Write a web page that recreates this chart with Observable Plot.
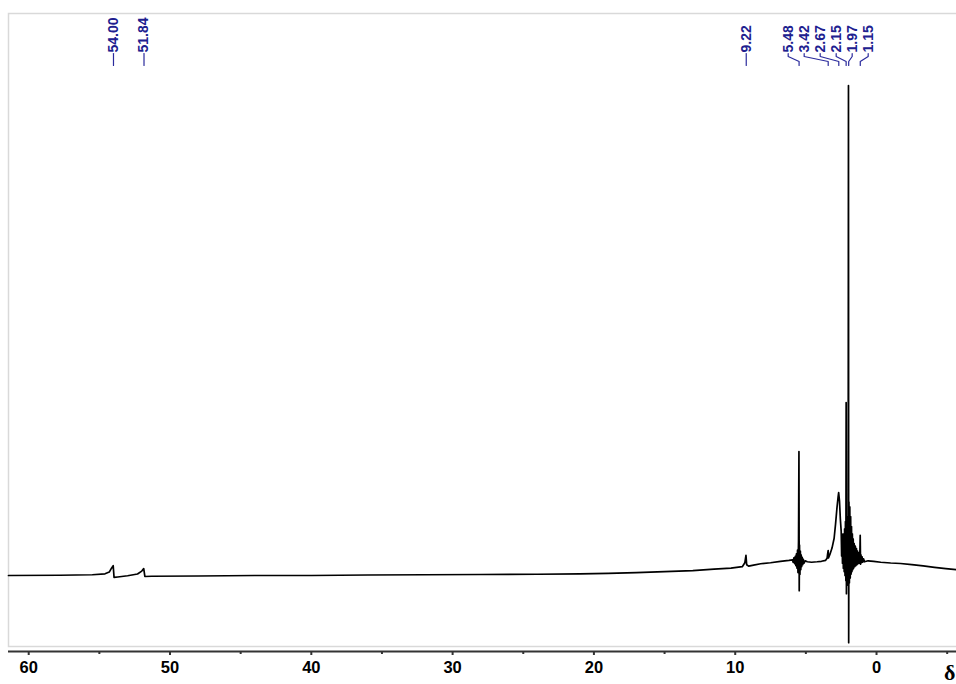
<!DOCTYPE html>
<html><head><meta charset="utf-8">
<script src="https://cdn.jsdelivr.net/npm/d3@7"></script>
<script src="https://cdn.jsdelivr.net/npm/@observablehq/plot@0.6"></script>
<style>html,body{margin:0;padding:0;background:#fff;} #chart svg{display:block;}</style>
</head><body><div id="chart"></div>
<script>
// Chemical shift (ppm) and relative intensity
const ppm = [61.43,57.8,55.5,54.6,54.3,54.14,54.02,53.96,53.7,53.0,52.3,52.0,51.86,51.78,51.3,48.0,44.0,40.0,36.0,32.0,28.0,24.0,21.0,19.0,17.0,15.0,13.0,11.5,10.3,9.5,9.32,9.24,9.19,9.05,8.7,8.2,7.5,6.8,6.2,
5.95,5.90,5.85,5.80,5.75,5.71,5.67,5.63,5.59,5.56,5.52,5.49,5.47,5.45,5.42,5.39,5.36,5.33,5.30,5.26,5.22,5.18,5.13,5.05,4.9,4.6,4.2,3.9,3.6,3.5,3.45,3.42,3.40,3.30,3.15,3.0,2.9,2.8,2.72,2.68,2.62,2.56,2.50,2.47,2.44,2.41,2.38,2.35,2.32,2.29,2.26,2.23,2.20,2.17,2.15,2.13,2.10,2.07,2.04,2.01,1.985,1.97,1.95,1.92,1.89,1.86,1.83,1.80,1.77,1.74,1.71,1.68,1.65,1.62,1.58,1.54,1.50,1.46,1.42,1.38,1.34,1.30,1.26,1.22,1.18,1.155,1.13,1.10,1.06,1.02,0.98,0.92,0.85,0.6,0.2,-0.3,-1.0,-1.7,-2.5,-3.3,-4.1,-4.9,-5.66];
const intensity = [0.0,0.05,0.15,0.35,0.7,1.5,2.0,-0.4,-0.3,-0.05,0.3,0.9,1.4,-0.2,-0.15,-0.1,0.0,0.0,0.1,0.15,0.2,0.25,0.35,0.45,0.6,0.8,1.0,1.3,1.5,1.8,2.6,4.1,2.2,1.9,2.1,2.4,2.6,2.9,3.1,
3.2,2.7,3.6,2.4,3.9,2.0,4.4,1.5,5.2,0.6,7.0,25.3,-3.1,6.2,0.2,5.0,1.2,4.2,1.8,3.7,2.2,3.3,2.5,3.0,2.8,2.7,2.8,2.9,3.1,3.5,4.6,5.1,3.6,4.3,5.6,7.6,10.5,13.8,16.0,16.9,15.2,11.5,9.0,4.0,8.5,2.5,8.0,1.5,8.5,0.8,9.5,0.0,11.0,-1.0,35.3,-3.7,10.5,-1.5,12.0,-2.0,100,-13.7,15.0,-1.5,14.0,-0.5,12.0,0.3,10.0,0.8,8.5,1.2,7.5,1.5,6.5,1.8,6.0,2.0,5.5,2.2,5.0,2.4,4.6,2.5,4.5,8.2,2.3,4.2,2.6,3.8,2.7,3.4,2.8,3.0,2.9,2.7,2.55,2.45,2.2,1.95,1.65,1.4,1.2];
const peakLabels = [54.00, 51.84, 9.22, 5.48, 3.42, 2.67, 2.15, 1.97, 1.15];
const majorTicks = [60, 50, 40, 30, 20, 10, 0];
const minorTicks = [55, 45, 35, 25, 15, 5, -5];
const xDomain = [61.43, -5.66];
const yDomain = [-15.51, 114.69];
const axisTitle = "δ";

const W = 956, H = 684, ML = 8, MR = 0, MT = 13, MB = 33;
const spectrum = ppm.map((p, i) => ({ppm: p, v: intensity[i]}));

const xs = Plot.scale({x: {domain: xDomain, range: [ML, W - MR]}});
const ys = Plot.scale({y: {domain: yDomain, range: [H - MB, MT]}});

// label layout: spread overlapping labels evenly around their cluster centre
const GAP = 16;
let clusters = peakLabels.map(p => ({peaks: [p]}));
function place(c) {
  const px = c.peaks.map(p => xs.apply(p));
  const mid = (Math.min(...px) + Math.max(...px)) / 2;
  c.start = mid - (c.peaks.length - 1) * GAP / 2 - 1.5 * (c.peaks.length > 1);
}
let changed = true;
while (changed) {
  changed = false;
  clusters.forEach(place);
  for (let i = 0; i < clusters.length - 1; i++) {
    const a = clusters[i], b = clusters[i + 1];
    if (a.start + a.peaks.length * GAP > b.start) {
      a.peaks = a.peaks.concat(b.peaks);
      clusters.splice(i + 1, 1);
      changed = true;
      break;
    }
  }
}
const labels = [];
clusters.forEach(c => c.peaks.forEach((p, k) => {
  labels.push({peak: p, text: p.toFixed(2), labelPpm: xs.invert(c.start + k * GAP)});
}));
const connectorPts = [];
labels.forEach((l, k) => {
  connectorPts.push({k, x: l.labelPpm, y: ys.invert(53)});
  connectorPts.push({k, x: l.labelPpm, y: ys.invert(56)});
  connectorPts.push({k, x: l.peak, y: ys.invert(61)});
  connectorPts.push({k, x: l.peak, y: ys.invert(65)});
});

const chart = Plot.plot({
  width: W, height: H,
  marginLeft: ML, marginRight: MR, marginTop: MT, marginBottom: MB,
  style: {fontFamily: "Liberation Sans, Arial, sans-serif", background: "#fff", overflow: "visible"},
  x: {domain: xDomain},
  y: {domain: yDomain, axis: null},
  marks: [
    Plot.frame({stroke: "#d9d9d9", strokeWidth: 1.5, insetBottom: 5, insetRight: -3}),
    Plot.ruleY([yDomain[0]], {stroke: "#333", strokeWidth: 2}),
    Plot.axisX({ticks: majorTicks, tickSize: 4, tickPadding: 6, tickFormat: d => String(d),
      fontSize: 16.5, fontWeight: "bold", stroke: "#333", strokeWidth: 2, fill: "#000"}),
    Plot.axisX({ticks: minorTicks, tickSize: 3, tickFormat: () => "", stroke: "#333", strokeWidth: 2}),
    Plot.text([axisTitle], {frameAnchor: "bottom-right", dx: -1, dy: 21, textAnchor: "end", lineAnchor: "middle",
      fontSize: 22, fontWeight: "bold", fontFamily: "Liberation Serif, Times New Roman, serif", fill: "#000"}),
    Plot.line(spectrum, {x: "ppm", y: "v", stroke: "#000", strokeWidth: 1.7}),
    Plot.line(connectorPts, {x: "x", y: "y", z: "k", stroke: "#2a2a9c", strokeWidth: 1.2}),
    Plot.text(labels, {x: "labelPpm", y: () => ys.invert(52), text: "text", rotate: -90,
      textAnchor: "start", lineAnchor: "middle", fontSize: 14, fontWeight: "bold", fill: "#20208f"})
  ]
});
document.getElementById("chart").appendChild(chart);
</script>
</body></html>
